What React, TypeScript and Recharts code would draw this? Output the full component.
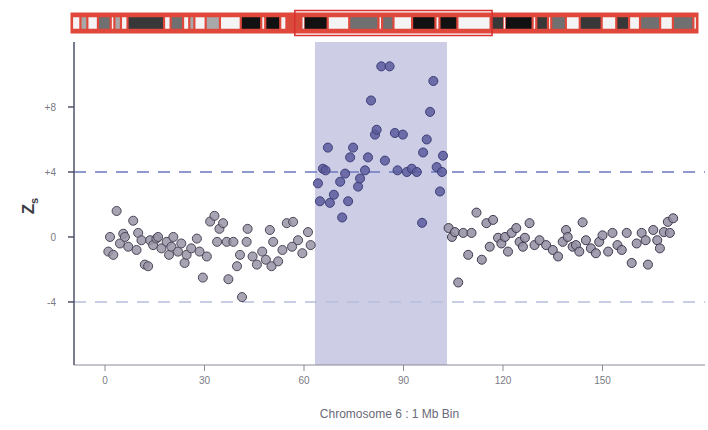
import { ScatterChart, Scatter, XAxis, YAxis, ZAxis, ReferenceArea, ReferenceLine, ComposedChart } from 'recharts';

// bins left of the gained segment (Mb) and their z-scores
const leftBins = [1, 1.5, 2.5, 3.5, 4.5, 5.5, 6, 7, 8.5, 9.5, 10, 11, 12, 13, 13.6, 14.5, 15.5, 16, 17, 18.6, 19.3, 20, 20.6, 22, 23, 24, 24.6, 26, 27.7, 28.5, 29.5, 30.7, 31.7, 33, 33.8, 34.5, 35.6, 36.7, 37.2, 38.7, 39.8, 40.7, 41.3, 42.7, 43, 44.5, 45.8, 47.4, 48.5, 49.7, 50.2, 50.7, 52.2, 53.5, 54.8, 56.4, 56.7, 58.2, 59.5, 61.2, 62];
const leftZ = [-0.9, 0, -1.1, 1.6, -0.4, 0.2, 0, -0.6, 1.0, -0.8, 0.25, -0.2, -1.7, -1.8, -0.2, -0.5, -0.1, 0, -0.7, -0.3, -1.1, -0.6, 0, -0.9, -0.4, -1.6, -1.1, -0.7, -0.1, -0.9, -2.5, -1.2, 0.95, 1.3, -0.3, 0.5, 0.85, -0.3, -2.6, -0.3, -1.8, -1.1, -3.7, -0.3, 0.5, -1.2, -1.7, -0.9, -1.4, 0.43, -1.8, -0.3, -1.5, -0.8, 0.85, -0.6, 0.93, -0.2, -1.0, 0.3, -0.5];

// bins inside the highlighted segment
const gainBins = [64.2, 64.8, 65.7, 66.5, 67.2, 67.8, 69, 70.9, 71.5, 72.4, 73.3, 73.9, 74.8, 76.3, 76.9, 78.4, 79.3, 80.2, 81.4, 81.9, 83.3, 84.4, 85.8, 87.4, 88.2, 89.8, 91, 92.5, 94, 95.6, 95.9, 97, 98, 99, 100, 101, 101.6, 101.9];
const gainZ = [3.3, 2.2, 4.2, 4.1, 5.5, 2.1, 2.6, 3.4, 1.2, 3.9, 2.2, 4.9, 5.5, 3.1, 3.6, 4.1, 4.9, 8.4, 6.3, 6.6, 10.5, 4.7, 10.5, 6.4, 4.1, 6.3, 4.0, 4.2, 4.0, 0.87, 5.2, 6.0, 7.7, 9.6, 4.3, 2.8, 4.0, 5.0];

// bins right of the segment
const rightBins = [103.6, 104.6, 105.5, 106.5, 108, 109.5, 110.5, 112, 113.6, 115, 116, 117, 118.5, 119.5, 120.6, 121.5, 122.6, 124, 125, 126, 126.6, 128, 129.5, 131, 133, 135, 136.6, 138, 139, 139.5, 141, 142, 143, 144, 145, 146.5, 148, 149, 150, 151.7, 153, 154.5, 155.8, 157.3, 158.8, 160.3, 161.8, 163, 163.7, 165.3, 166.5, 167.3, 168.5, 169.7, 170.3, 171.3];
const rightZ = [0.55, 0, 0.3, -2.8, 0.25, -1.1, 0.25, 1.5, -1.4, 0.85, -0.6, 1.05, -0.05, -0.4, 0, -0.9, 0.25, 0.55, -0.3, -0.6, -0.05, 0.85, -0.5, -0.2, -0.5, -0.8, -1.2, -0.3, 0.43, 0, -0.6, -0.5, -0.9, 0.9, -0.2, -0.7, -1.0, -0.3, 0.1, -0.9, 0.25, -0.5, -0.8, 0.25, -1.6, -0.4, 0.25, -0.2, -1.7, 0.43, -0.2, -0.7, 0.3, 0.93, 0.25, 1.15];

const regionStart = 63.3;
const regionEnd = 103.1;
const xTicks = [0, 30, 60, 90, 120, 150];
const yTicks = [-4, 0, 4, 8];
const thresholds = [4, -4];

// chromosome 6 ideogram bands (Mb)
const bandStart = [0, 2.3, 4.2, 7.1, 10.6, 11.6, 13.4, 15.2, 25.2, 27, 30.4, 32.1, 33.5, 36.6, 40.5, 46.2, 51.8, 52.9, 57, 58.7, 61, 63.3, 63.4, 70, 75.9, 83.9, 84.9, 88, 93.1, 99.5, 100.6, 105.5, 114.6, 118.3, 118.5, 126.1, 127.1, 130.3, 131.2, 135.2, 139, 145, 149, 152.5, 155.5, 161, 164.5, 170.1];
const bandEnd = [2.3, 4.2, 7.1, 10.6, 11.6, 13.4, 15.2, 25.2, 27, 30.4, 32.1, 33.5, 36.6, 40.5, 46.2, 51.8, 52.9, 57, 58.7, 61, 63.3, 63.4, 70, 75.9, 83.9, 84.9, 88, 93.1, 99.5, 100.6, 105.5, 114.6, 118.3, 118.5, 126.1, 127.1, 130.3, 131.2, 135.2, 139, 145, 149, 152.5, 155.5, 161, 164.5, 170.1, 171.1];
const bandStain = ['gneg', 'gpos25', 'gneg', 'gpos50', 'gneg', 'gpos25', 'gneg', 'gpos75', 'gneg', 'gpos50', 'gneg', 'gpos25', 'gneg', 'gpos25', 'gneg', 'gpos100', 'gneg', 'gpos100', 'gneg', 'acen', 'acen', 'gneg', 'gpos100', 'gneg', 'gpos50', 'gneg', 'gpos50', 'gneg', 'gpos100', 'gneg', 'gpos100', 'gneg', 'gpos75', 'gneg', 'gpos100', 'gneg', 'gpos75', 'gneg', 'gpos50', 'gneg', 'gpos75', 'gneg', 'gpos75', 'gneg', 'gpos50', 'gneg', 'gpos50', 'gneg'];
const selStart = 61;
const selEnd = 115;

const stainColor: Record<string, string> = {
  gneg: '#f4f4f4',
  gpos25: '#a8a8a8',
  gpos50: '#707070',
  gpos75: '#383838',
  gpos100: '#111111',
  acen: '#d84a3a',
};

const toPoints = (xs: number[], ys: number[]) => xs.map((x, i) => ({ x, z: ys[i] }));
const leftData = toPoints(leftBins, leftZ);
const gainData = toPoints(gainBins, gainZ);
const rightData = toPoints(rightBins, rightZ);

const X_DOMAIN: [number, number] = [-9.35, 180.9];
const Y_DOMAIN: [number, number] = [-7.88, 12.0];
const tickStyle = { fill: '#7a7a84', fontSize: 10, fontFamily: 'Liberation Sans, Arial, sans-serif' };

const ZLabel = () => (
  <text x={34} y={206} transform="rotate(-90 34 206)" textAnchor="middle" fill="#3c3c44" fontSize={17} fontWeight="bold" fontFamily="Liberation Sans, Arial, sans-serif">
    Z<tspan fontSize={11} dy={4}>s</tspan>
  </text>
);

const Ideogram = () => (
  <ComposedChart width={708} height={46} margin={{ top: 14, right: 11, bottom: 14, left: 72 }} data={[]}>
    <XAxis type="number" dataKey="x" domain={[0, 171.1]} hide allowDataOverflow />
    <YAxis type="number" domain={[0, 1]} hide allowDataOverflow />
    <ReferenceArea x1={0} x2={171.1} y1={0} y2={1} fill="#e0483c" fillOpacity={1} stroke="#e0483c" strokeWidth={3} ifOverflow="visible" />
    {bandStart.map((s, i) => (
      <ReferenceArea
        key={i}
        x1={s + 0.3}
        x2={bandEnd[i] - 0.3}
        y1={0.18}
        y2={0.82}
        fill={stainColor[bandStain[i]]}
        fillOpacity={1}
        stroke="none"
        ifOverflow="visible"
      />
    ))}
    <ReferenceArea x1={selStart} x2={selEnd} y1={-0.2} y2={1.2} fill="none" stroke="#d83030" strokeWidth={1.5} ifOverflow="visible" />
  </ComposedChart>
);

export default function App() {
  return (
    <div style={{ position: 'absolute', left: 0, top: 0, width: 708, height: 430, background: '#ffffff' }}>
      <div style={{ position: 'absolute', left: 0, top: 0 }}>
        <Ideogram />
      </div>
      <div style={{ position: 'absolute', left: 0, top: 0 }}>
        <ScatterChart width={708} height={430} margin={{ top: 42, right: 3, bottom: 0, left: 0 }}>
          <ZAxis range={[72, 72]} />
          <XAxis
            type="number"
            dataKey="x"
            domain={X_DOMAIN}
            ticks={xTicks}
            height={65}
            allowDataOverflow
            tick={tickStyle}
            tickSize={6}
            tickMargin={6}
            stroke="#8a8a96"
            label={{ value: 'Chromosome 6 : 1 Mb Bin', position: 'insideBottom', offset: 12, fill: '#6a6a78', fontSize: 12, fontFamily: 'Liberation Sans, Arial, sans-serif' }}
          />
          <XAxis xAxisId="top" orientation="top" type="number" domain={X_DOMAIN} height={0} tick={false} tickLine={false} stroke="#c8c8d6" allowDataOverflow />
          <YAxis
            type="number"
            dataKey="z"
            domain={Y_DOMAIN}
            ticks={yTicks}
            width={74}
            allowDataOverflow
            tick={tickStyle}
            tickSize={6}
            tickMargin={12}
            tickFormatter={(v: number) => (v > 0 ? `+${v}` : `${v}`)}
            stroke="#4e5268"
            strokeWidth={1.5}
            label={<ZLabel />}
          />
          <YAxis yAxisId="right" orientation="right" type="number" domain={Y_DOMAIN} width={0} tick={false} tickLine={false} stroke="#c8c8d6" allowDataOverflow />
          <ReferenceArea x1={regionStart} x2={regionEnd} fill="#cdcde6" fillOpacity={1} stroke="none" />
          <ReferenceLine y={thresholds[0]} stroke="#6c78c0" strokeWidth={1.5} strokeDasharray="12 9" />
          <ReferenceLine y={thresholds[1]} stroke="#b6bedc" strokeWidth={1.5} strokeDasharray="12 9" />
          <Scatter data={leftData} fill="#9a94a6" fillOpacity={0.85} stroke="#4a4658" strokeWidth={1} isAnimationActive={false} />
          <Scatter data={rightData} fill="#948ea2" fillOpacity={0.85} stroke="#3e3a4e" strokeWidth={1} isAnimationActive={false} />
          <Scatter data={gainData} fill="#5a5a9c" fillOpacity={0.85} stroke="#3e3e78" strokeWidth={1} isAnimationActive={false} />
        </ScatterChart>
      </div>
    </div>
  );
}
